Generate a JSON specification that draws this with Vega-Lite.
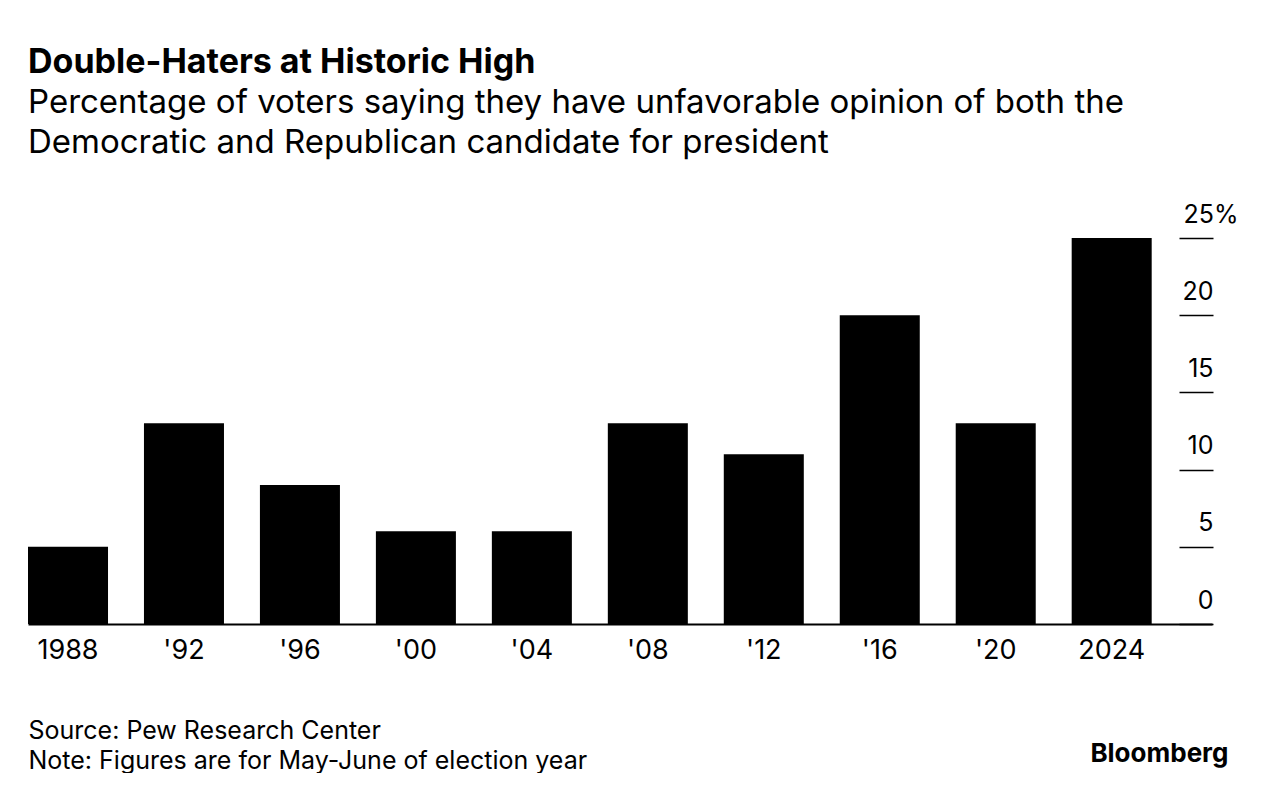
{
  "$schema": "https://vega.github.io/schema/vega-lite/v6.json",
  "width": 1184,
  "height": 386,
  "padding": {"left": 28, "top": 46, "right": 0, "bottom": 0},
  "autosize": {"type": "pad"},
  "background": "white",
  "config": {"view": {"stroke": null}, "font": "Inter"},
  "title": {
    "text": "Double-Haters at Historic High",
    "subtitle": ["Percentage of voters saying they have unfavorable opinion of both the", "Democratic and Republican candidate for president"],
    "anchor": "start",
    "frame": "group",
    "fontSize": 34,
    "fontWeight": "bold",
    "color": "black",
    "subtitleFontSize": 33,
    "subtitleColor": "black",
    "subtitleLineHeight": 40,
    "subtitlePadding": 7,
    "offset": 42
  },
  "data": {
    "values": [
      {"year": "1988", "pct": 5},
      {"year": "'92", "pct": 13},
      {"year": "'96", "pct": 9},
      {"year": "'00", "pct": 6},
      {"year": "'04", "pct": 6},
      {"year": "'08", "pct": 13},
      {"year": "'12", "pct": 11},
      {"year": "'16", "pct": 20},
      {"year": "'20", "pct": 13},
      {"year": "2024", "pct": 25}
    ]
  },
  "mark": {"type": "bar", "color": "black"},
  "encoding": {
    "x": {
      "field": "year",
      "type": "nominal",
      "sort": null,
      "scale": {"paddingInner": 0.31, "paddingOuter": 0.26, "align": 0},
      "axis": {
        "orient": "bottom",
        "domain": true,
        "domainColor": "black",
        "domainWidth": 2,
        "ticks": false,
        "labelAngle": 0,
        "labelFontSize": 27,
        "labelColor": "black",
        "labelPadding": 13,
        "title": ["Source: Pew Research Center", "Note: Figures are for May-June of election year"],
        "titleAnchor": "start",
        "titleAlign": "left",
        "titleFontSize": 25,
        "titleFontWeight": "normal",
        "titleColor": "black",
        "titleLineHeight": 30,
        "titlePadding": 55
      }
    },
    "y": {
      "field": "pct",
      "type": "quantitative",
      "scale": {"domain": [0, 25]},
      "axis": {
        "orient": "right",
        "offset": -33,
        "domain": false,
        "grid": false,
        "ticks": true,
        "tickSize": 34,
        "tickColor": "black",
        "tickWidth": 1.5,
        "values": [0, 5, 10, 15, 20, 25],
        "labelExpr": "datum.value == 25 ? '25%' : datum.label",
        "labelAlign": {"condition": {"test": "datum.value == 25", "value": "left"}, "value": "right"},
        "labelPadding": {"condition": {"test": "datum.value == 25", "value": -30}, "value": 0},
        "labelBaseline": "alphabetic",
        "labelOffset": -16,
        "labelFontSize": 25,
        "labelColor": "black",
        "labelFlush": false,
        "labelOverlap": false,
        "title": "Bloomberg",
        "titleAngle": 0,
        "titleAlign": "right",
        "titleBaseline": "alphabetic",
        "titleX": 49,
        "titleY": 523,
        "titleFontSize": 26,
        "titleFontWeight": "bold",
        "titleColor": "black"
      }
    }
  }
}
